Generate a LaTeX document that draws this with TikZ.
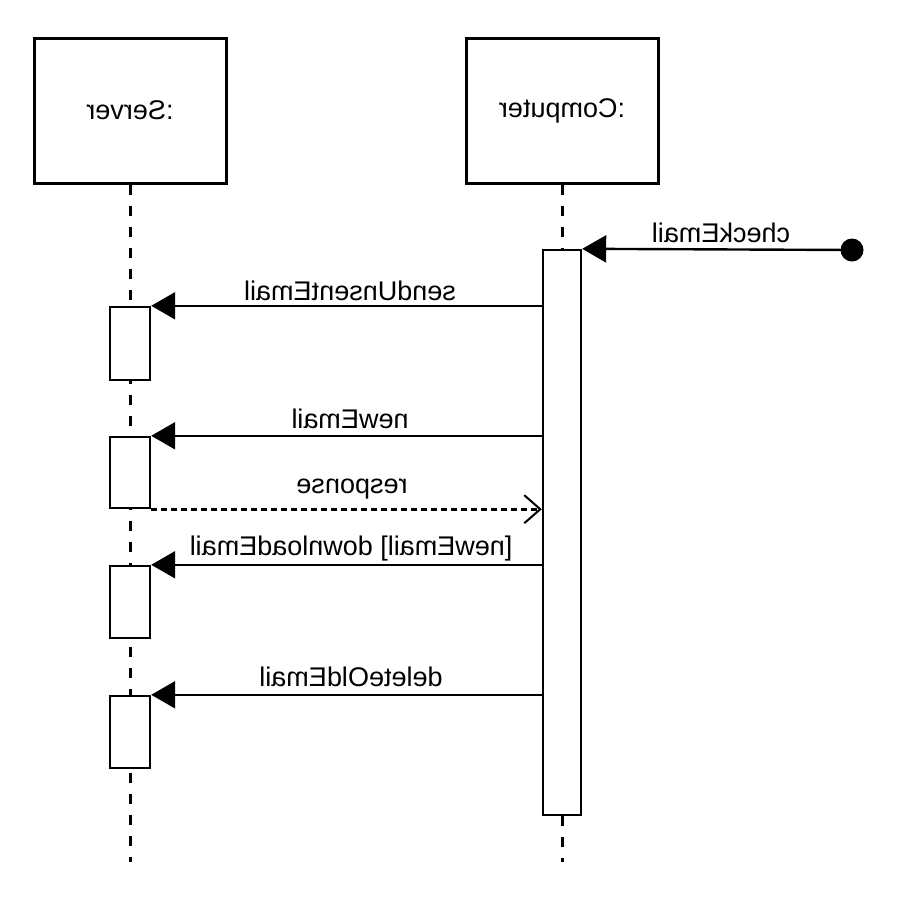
\documentclass[tikz,border=0pt]{standalone}
\usepackage{fontspec}
\usepackage{graphicx}
\setmainfont{Liberation Sans}
\usetikzlibrary{arrows.meta}
% all text in this sequence chart is printed mirrored left-to-right
\newcommand{\flipped}[1]{\reflectbox{#1}}
\begin{document}
\begin{tikzpicture}[x=1pt,y=-1pt,line width=2.4pt,
  txt/.style={font=\fontsize{27}{30}\selectfont},
  objbox/.style={draw,fill=white,line width=3pt,minimum width=192pt,minimum height=145pt,inner sep=0pt,txt},
  lifeline/.style={line width=3pt,dash pattern=on 10pt off 11pt},
  actbox/.style={draw,fill=white,line width=2.4pt,inner sep=0pt},
  msg/.style={-{Triangle[length=24pt,width=27pt]}},
  reply/.style={line width=2.6pt,dash pattern=on 6pt off 4pt,-{Straight Barb[length=16pt,width=28pt,line width=2pt]}},
  lbl/.style={anchor=base,inner sep=0pt,txt}]
\useasboundingbox (0,0) rectangle (900,900);

% participants
\node[objbox] (server) at (130,110.5) {\flipped{:Server}};
\node[objbox] (computer) at (562,110.5) {\flipped{:Computer}};

% lifeline ends
\coordinate (sEnd) at (130,862);
\coordinate (cEnd) at (562,862);

% activation bar of the computer
\node[actbox,minimum width=38pt,minimum height=565pt] (act) at (562,532.5) {};

% lifelines
\draw[lifeline] (server.south) -- (sEnd);
\draw[lifeline] (computer.south) -- (act.north);
\draw[lifeline] (act.south) -- (cEnd);

% redraw the computer bar over its lifeline
\node[actbox,minimum width=38pt,minimum height=565pt] at (562,532.5) {};

% activation bars of the server
\node[actbox,minimum width=40pt,minimum height=73pt] (a1) at (130,343.5) {};
\node[actbox,minimum width=40pt,minimum height=71pt] (a2) at (130,472.5) {};
\node[actbox,minimum width=40pt,minimum height=72pt] (a3) at (130,602) {};
\node[actbox,minimum width=40pt,minimum height=72pt] (a4) at (130,732) {};

% found message
\node[circle,fill,minimum size=23pt,inner sep=0pt] (init) at (852,250) {};
\draw[msg] (init.center) -- (act.north east);
\node[lbl] (lCheck) at (721,242) {\flipped{checkEmail}};

% calls from the computer to the server
\draw[msg] (a1.north east -| act.west) -- (a1.north east);
\node[lbl] (lSend) at (350,300) {\flipped{sendUnsentEmail}};

\draw[msg] (a2.north east -| act.west) -- (a2.north east);
\node[lbl] (lNew) at (350,428) {\flipped{newEmail}};

\draw[reply] (a2.south east) -- (a2.south east -| act.west);
\node[lbl] (lResp) at (352,493) {\flipped{response}};

\draw[msg] (a3.north east -| act.west) -- (a3.north east);
\node[lbl] (lDown) at (351,555) {\flipped{[newEmail] downloadEmail}};

\draw[msg] (a4.north east -| act.west) -- (a4.north east);
\node[lbl] (lDel) at (351,686) {\flipped{deleteOldEmail}};
\end{tikzpicture}
\end{document}
